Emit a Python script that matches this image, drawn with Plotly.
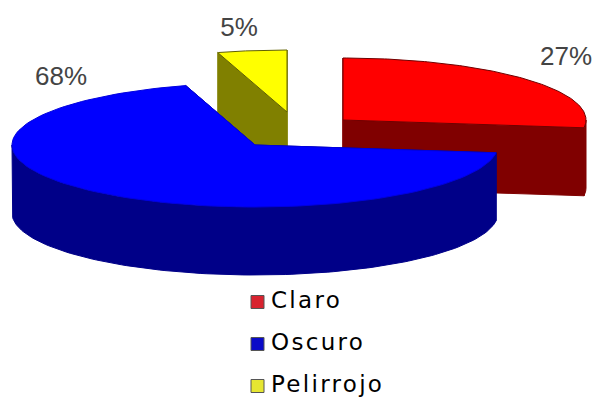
import numpy as np
import plotly.graph_objects as go

categories = ["Claro", "Oscuro", "Pelirrojo"]
values = [27.0, 68.4, 4.6]
percent_labels = ["27%", "68%", "5%"]
top_colors = ["#ff0000", "#0000ff", "#ffff00"]
side_colors = ["#800000", "#000088", "#808000"]
legend_colors = ["#d8232f", "#0a0ac8", "#e6e632"]
edge_colors = ["#700000", "#0000e0", "#606000"]
apex_x = [343, 255, 287]
apex_y = [120, 145, 112]
label_x = [566, 61, 239]
label_y = [58, 78, 29]
legend_y = [302, 344, 386]

RX, RY, DEPTH = 243, 62, 68

fig = go.Figure()
total = sum(values)
starts = np.cumsum([0] + values[:-1]) / total * 2 * np.pi
ends = np.cumsum(values) / total * 2 * np.pi


def add_poly(xs, ys, color, line_color):
    fig.add_trace(go.Scatter(x=list(xs), y=list(ys), mode="lines", fill="toself",
                             fillcolor=color, line=dict(color=line_color, width=1),
                             hoverinfo="skip", showlegend=False))


for i in [2, 0, 1]:
    ax, ay = apex_x[i], apex_y[i]
    a, b = starts[i], ends[i]
    # radial walls
    for ang in (a, b):
        ex, ey = ax + RX * np.sin(ang), ay - RY * np.cos(ang)
        add_poly([ax, ex, ex, ax, ax], [ay, ey, ey + DEPTH, ay + DEPTH, ay],
                 side_colors[i], side_colors[i])
    # outer wall: only the front half of the rim is visible
    lo, hi = max(a, np.pi / 2), min(b, 3 * np.pi / 2)
    if hi > lo:
        t = np.linspace(lo, hi, 120)
        rx = ax + RX * np.sin(t)
        ry = ay - RY * np.cos(t)
        add_poly(np.r_[rx, rx[::-1], rx[0]], np.r_[ry, ry[::-1] + DEPTH, ry[0]],
                 side_colors[i], side_colors[i])
    # top face
    t = np.linspace(a, b, 120)
    add_poly(np.r_[ax, ax + RX * np.sin(t), ax], np.r_[ay, ay - RY * np.cos(t), ay],
             top_colors[i], edge_colors[i])

fig.add_trace(go.Scatter(x=label_x, y=label_y, mode="text", text=percent_labels,
                         textfont=dict(family="Liberation Sans", size=26, color="#444444"),
                         hoverinfo="skip", showlegend=False))
fig.add_trace(go.Scatter(x=[257.5] * 3, y=legend_y, mode="markers",
                         marker=dict(symbol="square", size=13, color=legend_colors,
                                     line=dict(color="#555555", width=1)),
                         hoverinfo="skip", showlegend=False))
fig.add_trace(go.Scatter(x=[271] * 3, y=legend_y, mode="text", text=categories,
                         textposition="middle right",
                         textfont=dict(family="DejaVu Sans", size=23, color="#000000"),
                         hoverinfo="skip", showlegend=False))

fig.update_layout(width=594, height=398, margin=dict(l=0, r=0, t=0, b=0),
                  paper_bgcolor="white", plot_bgcolor="white",
                  xaxis=dict(range=[0, 594], visible=False, fixedrange=True),
                  yaxis=dict(range=[398, 0], visible=False, fixedrange=True))
fig.write_html("out.html", config={"displayModeBar": False},
               post_script="""document.body.style.margin='0';
var groups=document.querySelectorAll('.scatterlayer .trace');
groups[groups.length-1].querySelectorAll('text').forEach(function(t){t.style.letterSpacing='2.3px';});""")
